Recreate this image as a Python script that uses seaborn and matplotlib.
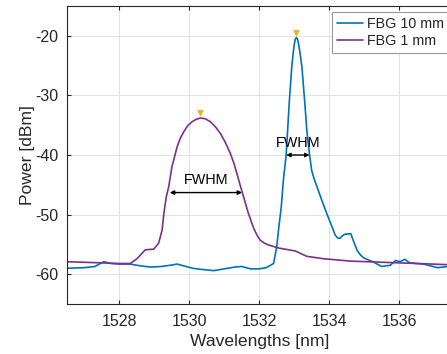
import matplotlib
matplotlib.use("Agg")
import matplotlib.pyplot as plt
import seaborn as sns
import pandas as pd

# ---- data ----
wl_10mm = [1526.5, 1527.0, 1527.3, 1527.55, 1527.75, 1528.0, 1528.3, 1528.6, 1528.9,
           1529.2, 1529.45, 1529.65, 1529.9, 1530.1, 1530.35, 1530.7, 1531.0, 1531.3,
           1531.5, 1531.75, 1532.0, 1532.2, 1532.41, 1532.5, 1532.55, 1532.63, 1532.69,
           1532.77, 1532.86, 1532.93, 1532.97, 1533.0, 1533.03, 1533.06, 1533.09, 1533.12,
           1533.16, 1533.22, 1533.3, 1533.36, 1533.44, 1533.5, 1533.57, 1533.65, 1533.79,
           1533.93, 1534.08, 1534.17, 1534.24, 1534.3, 1534.37, 1534.45, 1534.62, 1534.7,
           1534.8, 1534.9, 1535.0, 1535.25, 1535.5, 1535.75, 1535.9, 1536.03, 1536.17,
           1536.3, 1536.5, 1536.7, 1536.9, 1537.1, 1537.4]
pw_10mm = [-59.0, -58.9, -58.7, -57.9, -58.2, -58.3, -58.3, -58.6, -58.8,
           -58.7, -58.5, -58.3, -58.7, -59.0, -59.2, -59.4, -59.1, -58.8,
           -58.7, -59.1, -59.1, -58.9, -58.2, -55.4, -52.6, -48.7, -44.2,
           -40.0, -31.0, -25.2, -23.0, -21.5, -20.6, -20.3, -20.5, -21.2,
           -22.6, -25.2, -31.0, -35.8, -40.0, -42.6, -44.0, -45.3, -47.6,
           -49.8, -52.0, -53.4, -53.9, -54.0, -53.6, -53.3, -53.2, -54.5,
           -56.0, -56.8, -57.3, -57.9, -58.7, -58.5, -57.7, -57.9, -57.5,
           -58.1, -58.2, -58.3, -58.6, -58.9, -58.7]

wl_1mm = [1526.5, 1527.0, 1527.5, 1528.0, 1528.31, 1528.5, 1528.74, 1528.98, 1529.12,
          1529.22, 1529.27, 1529.34, 1529.41, 1529.5, 1529.58, 1529.65, 1529.74, 1529.84,
          1529.95, 1530.08, 1530.2, 1530.31, 1530.45, 1530.6, 1530.75, 1530.89, 1531.03,
          1531.17, 1531.27, 1531.36, 1531.45, 1531.55, 1531.69, 1531.84, 1531.94, 1532.03,
          1532.15, 1532.27, 1532.55, 1533.03, 1533.36, 1533.84, 1534.6, 1535.55, 1536.5,
          1537.4]
pw_1mm = [-57.9, -58.0, -58.1, -58.2, -58.2, -57.4, -55.9, -55.8, -54.8,
          -52.6, -49.8, -47.0, -45.3, -42.0, -40.2, -38.6, -37.2, -36.1,
          -35.1, -34.4, -34.0, -33.8, -33.9, -34.4, -35.3, -36.4, -37.9,
          -39.7, -41.3, -43.1, -45.0, -47.0, -49.8, -52.3, -53.5, -54.3,
          -54.8, -55.1, -55.6, -56.1, -57.0, -57.4, -57.8, -58.0, -58.2,
          -58.4]

series_names = ["FBG 10 mm", "FBG 1 mm"]
peak_wl = [1533.06, 1530.31]
peak_pw = [-20.3, -33.8]
fwhm_10mm = [1532.77, 1533.44, -40.0]   # start, end, level
fwhm_1mm = [1529.44, 1531.51, -46.3]
xticks = [1528, 1530, 1532, 1534, 1536]
yticks = [-60, -50, -40, -30, -20]

df = pd.concat([
    pd.DataFrame({"wl": wl_10mm, "pw": pw_10mm, "series": series_names[0]}),
    pd.DataFrame({"wl": wl_1mm, "pw": pw_1mm, "series": series_names[1]}),
])

sns.set_theme(style="whitegrid")
plt.rcParams["font.family"] = ["Liberation Sans", "DejaVu Sans"]

fig = plt.figure(figsize=(4.47, 3.54), dpi=100)
ax = fig.add_axes([0.150, 0.1412, 0.860, 0.8418])

palette = {series_names[0]: "#0072BD", series_names[1]: "#7E2F8E"}
sns.lineplot(data=df, x="wl", y="pw", hue="series", palette=palette, sort=False,
             estimator=None, linewidth=1.2, ax=ax)

ax.scatter(peak_wl, [p + 0.8 for p in peak_pw], marker="v", s=24, color="#EDB120",
           zorder=5, linewidths=0)

arrowprops = dict(arrowstyle="<|-|>", color="black", lw=1.0, mutation_scale=6,
                  shrinkA=0, shrinkB=0)
for f in (fwhm_10mm, fwhm_1mm):
    ax.annotate("", xy=(f[0], f[2]), xytext=(f[1], f[2]), arrowprops=arrowprops)
    ax.text((f[0] + f[1]) / 2, f[2] + 0.9, "FWHM", ha="center", va="bottom",
            fontsize=10.4, color="black")

ax.set_xlim(1526.5, 1537.5)
ax.set_ylim(-65, -15)
ax.set_xticks(xticks)
ax.set_yticks(yticks)
ax.set_xticklabels([str(t) for t in xticks])
ax.set_yticklabels([str(t) for t in yticks])
ax.set_xlabel("Wavelengths [nm]", fontsize=12.6, color="#262626", labelpad=4)
ax.set_ylabel("Power [dBm]", fontsize=12.6, color="#262626", labelpad=0)

ax.set_facecolor("white")
ax.grid(True, color="#dedede", linewidth=0.6)
for s in ax.spines.values():
    s.set_visible(True)
    s.set_color("#262626")
    s.set_linewidth(0.8)
ax.tick_params(direction="in", length=3, width=0.8, color="#262626",
               labelsize=11.5, labelcolor="#262626", top=True, right=True,
               bottom=True, left=True)
ax.tick_params(axis="x", pad=7)
ax.tick_params(axis="y", pad=6)

leg = ax.legend(loc="upper right", bbox_to_anchor=(0.9935, 0.98), fontsize=10.3,
                frameon=True, fancybox=False, framealpha=1, edgecolor="#999999",
                borderpad=0.35, handlelength=1.8, handletextpad=0.27,
                labelspacing=0.2, borderaxespad=0.0)
leg.get_frame().set_linewidth(0.8)
leg.set_title(None)

fig.savefig("out.png", dpi=100)
